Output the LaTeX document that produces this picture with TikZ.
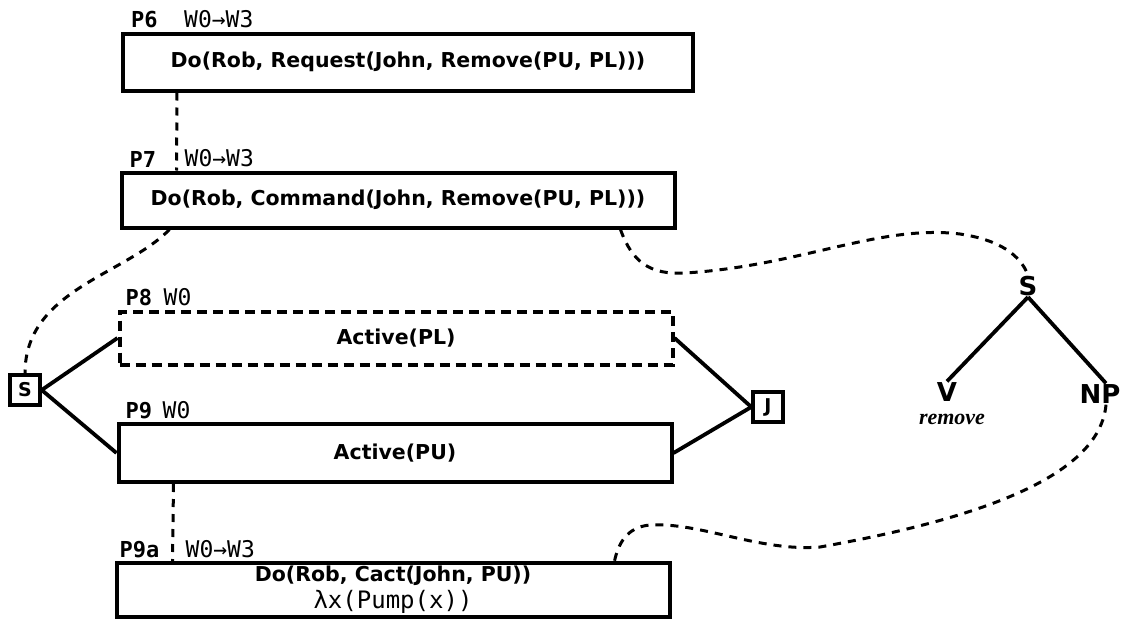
\documentclass[tikz,border=0pt]{standalone}
\usepackage{fontspec}
\newfontfamily\boxfont{DejaVu Sans}
\newfontfamily\labfont{DejaVu Sans Mono}
\newfontfamily\wordfont{Liberation Serif}
\usetikzlibrary{positioning, calc}

\begin{document}
\begin{tikzpicture}[
    x=1pt, y=-1pt,
    prop/.style={
        rectangle, draw=black, line width=4pt,
        minimum width=#1, minimum height=55pt,
        font=\boxfont\bfseries\fontsize{20.5}{27}\selectfont,
        align=center, inner sep=0pt,
    },
    prop/.default=553pt,
    hypo/.style={prop, dash pattern=on 10pt off 6pt},
    plab/.style={font=\labfont\bfseries\fontsize{22}{24}\selectfont, inner sep=0pt},
    wlab/.style={font=\labfont\fontsize{23}{24}\selectfont, inner sep=0pt},
    conn/.style={
        rectangle, draw=black, line width=3.4pt,
        minimum size=30pt, inner sep=0pt,
        font=\boxfont\bfseries\fontsize{19}{20}\selectfont,
    },
    cat/.style={font=\boxfont\bfseries\fontsize{26}{30}\selectfont, inner sep=1pt},
    word/.style={font=\wordfont\bfseries\itshape\fontsize{22}{24}\selectfont, inner sep=0pt},
    tie/.style={line width=3.8pt},
    coref/.style={line width=3pt, dash pattern=on 8pt off 7pt},
]
\useasboundingbox (0,0) rectangle (1123,621);

% ---------------- propositions ----------------
\node[prop=570pt, minimum height=57pt] (p6) at (408,62) {Do(Rob, Request(John, Remove(PU, PL)))};
\node[prop] (p7) at (398,200) {Do(Rob, Command(John, Remove(PU, PL)))};
\node[hypo, minimum height=53pt] (p8) at (396,338) {Active(PL)};
\node[prop, minimum height=58pt] (p9) at (395,453) {Active(PU)};
\node[prop, minimum height=54pt] (p9a) at (393,590) {Do(Rob, Cact(John, PU))\\{\labfont\mdseries\fontsize{24}{26}\selectfont λx(Pump(x))}};

% ---------------- labels ----------------
\node[plab, above right=3pt and 10pt of p6.north west] (p6l) {P6};
\node[wlab, above right=3pt and 63pt of p6.north west] (p6w) {W0→W3};
\node[plab, above right=3pt and 10pt of p7.north west] (p7l) {P7};
\node[wlab, above right=3pt and 65pt of p7.north west] (p7w) {W0→W3};
\node[plab, above right=3pt and 8pt of p8.north west] (p8l) {P8};
\node[wlab, above right=3pt and 46pt of p8.north west] (p8w) {W0};
\node[plab, above right=3pt and 9pt of p9.north west] (p9l) {P9};
\node[wlab, above right=3pt and 46pt of p9.north west] (p9w) {W0};
\node[plab, above right=3pt and 5pt of p9a.north west] (p9al) {P9a};
\node[wlab, above right=3pt and 71pt of p9a.north west] (p9aw) {W0→W3};

% ---------------- connectives ----------------
\node[conn] (sj) at (25,390) {S};
\node[conn] (jn) at (768,407) {J};
\draw[tie] (sj.east) -- (p8.west);
\draw[tie] (sj.east) -- (p9.west);
\draw[tie] (jn.west) -- (p8.east);
\draw[tie] (jn.west) -- (p9.east);

% ---------------- parse tree ----------------
\node[cat] (ts) at (1028,286) {S};
\node[cat] (tv) at (947,392) {V};
\node[cat] (tnp) at (1100,394) {NP};
\node[word] (tw) at (952,419) {remove};
\draw[tie] (ts.south) -- (tv.north);
\draw[tie] (ts.south) -- ([xshift=6pt]tnp.north);

% ---------------- dashed links ----------------
\draw[coref] ([xshift=56pt]p6.south west) -- ([xshift=57pt]p7.north west);
\draw[coref] ([xshift=57pt]p9.south west) -- ([xshift=58pt]p9a.north west);
\draw[coref] ([xshift=50pt]p7.south west) .. controls (125,275) and (25,290) .. (sj.north);
\draw[coref] ([xshift=501pt]p7.south west) .. controls (632,262) and (650,275) .. (685,273)
    .. controls (800,266) and (880,224) .. (960,234)
    .. controls (1000,240) and (1020,255) .. (ts.north);
\draw[coref] ([xshift=6pt]tnp.south) .. controls (1100,470) and (1000,515) .. (820,547)
    .. controls (760,552) and (700,522) .. (650,525)
    .. controls (626,527) and (618,545) .. ([xshift=500pt]p9a.north west);

\end{tikzpicture}
\end{document}
